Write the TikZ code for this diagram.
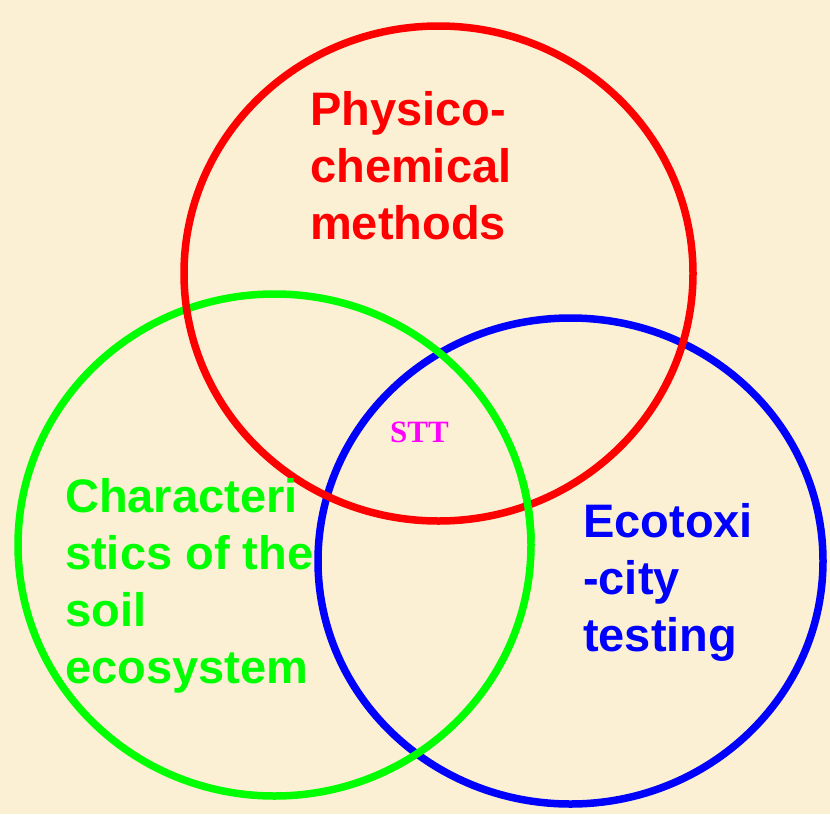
\documentclass[tikz,border=0pt]{standalone}
\usepackage{fontspec}
\setmainfont{Liberation Sans}
\newfontfamily\serifbold{Liberation Serif}
\definecolor{parchment}{HTML}{FBEFD4}
\definecolor{ringred}{HTML}{FF0000}
\definecolor{ringgreen}{HTML}{00FF00}
\definecolor{ringblue}{HTML}{0000FF}
\definecolor{core}{HTML}{FF00FF}
\begin{document}
\begin{tikzpicture}[x=1pt,y=-1pt,
  ring/.style={line width=7.5pt},
  label/.style={anchor=north west,inner sep=0pt,align=left,
    font=\fontsize{47}{57}\selectfont\bfseries}]
\fill[parchment] (0,0) rectangle (830,814);
\useasboundingbox (0,0) rectangle (830,814);
% the three overlapping rings
\draw[ring,ringblue] (570.5,561) ellipse [x radius=252.5,y radius=243];
\draw[ring,ringgreen] (274.5,545) ellipse [x radius=256.5,y radius=251];
\draw[ring,ringred] (438.5,273.5) ellipse [x radius=254.5,y radius=247.5];
% green passes over red at the lower right crossing
\begin{scope}
  \clip (505,480) rectangle (560,540);
  \draw[ring,ringgreen] (274.5,545) ellipse [x radius=256.5,y radius=251];
\end{scope}
% labels
\node[label,text=ringred] (phys) at (310,91) {Physico-\\chemical\\methods};
\node[label,text=ringgreen] (soil) at (65,478) {Characteri\\stics of the\\soil\\ecosystem};
\node[label,text=ringblue] (eco) at (583,503) {Ecotoxi\\-city\\testing};
\node[anchor=base west,inner sep=0pt,text=core,font=\serifbold\fontsize{31}{37}\selectfont\bfseries] (stt) at (390,442) {STT};
\end{tikzpicture}
\end{document}
